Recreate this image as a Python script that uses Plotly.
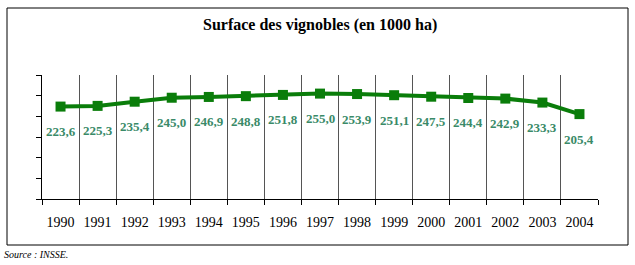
import plotly.graph_objects as go

years = [str(y) for y in range(1990, 2005)]
values = [223.6, 225.3, 235.4, 245.0, 246.9, 248.8, 251.8, 255.0, 253.9, 251.1, 247.5, 244.4, 242.9, 233.3, 205.4]
labels = ["223,6", "225,3", "235,4", "245,0", "246,9", "248,8", "251,8", "255,0",
          "253,9", "251,1", "247,5", "244,4", "242,9", "233,3", "205,4"]

SERIF = "Liberation Serif"

fig = go.Figure()
fig.add_trace(go.Scatter(
    x=years, y=values, mode="lines+markers",
    line=dict(color="#0a7d0a", width=4),
    marker=dict(symbol="square", size=10, color="#0a7d0a"),
    showlegend=False, hoverinfo="skip"))

for i, (v, t) in enumerate(zip(values, labels)):
    fig.add_annotation(x=i, y=v, xref="x", yref="y", text="<b>" + t + "</b>", showarrow=False, yshift=-25,
                       font=dict(family=SERIF, size=13, color="#3a8a68"))

fig.add_annotation(text="<b>Surface des vignobles (en 1000 ha)</b>", xref="paper", yref="paper",
                   x=0.5, y=1, yanchor="middle", yshift=50, showarrow=False,
                   font=dict(family=SERIF, size=16, color="black"))
# Frame (outer box)
fig.add_shape(type="rect", xref="paper", yref="paper",
              x0=-35/556, x1=(628-42)/556, y0=-(245-199)/124, y1=(199-8)/124,
              line=dict(color="black", width=1), layer="below")
fig.add_annotation(text="<i>Source : INSSE.</i>", xref="paper", yref="paper",
                   x=-40/556, y=-(254-199)/124, xanchor="left", yanchor="middle",
                   showarrow=False, font=dict(family=SERIF, size=10, color="black"))

fig.update_layout(
    width=635, height=265, autosize=False,
    margin=dict(l=42, r=37, t=75, b=66),
    paper_bgcolor="white", plot_bgcolor="white",
    xaxis=dict(type="category", range=[-0.5, 14.5], tickson="boundaries",
               showgrid=True, gridcolor="#555555", gridwidth=1,
               showline=True, linecolor="black", linewidth=1,
               ticks="outside", ticklen=5, tickcolor="black",
               ticklabelstandoff=10,
               tickfont=dict(family=SERIF, size=14, color="black")),
    yaxis=dict(range=[0, 300], dtick=50, showgrid=False, zeroline=False,
               showline=True, linecolor="black", linewidth=1,
               ticks="outside", ticklen=5, tickcolor="black",
               showticklabels=False),
)

fig.write_html("out.html")
